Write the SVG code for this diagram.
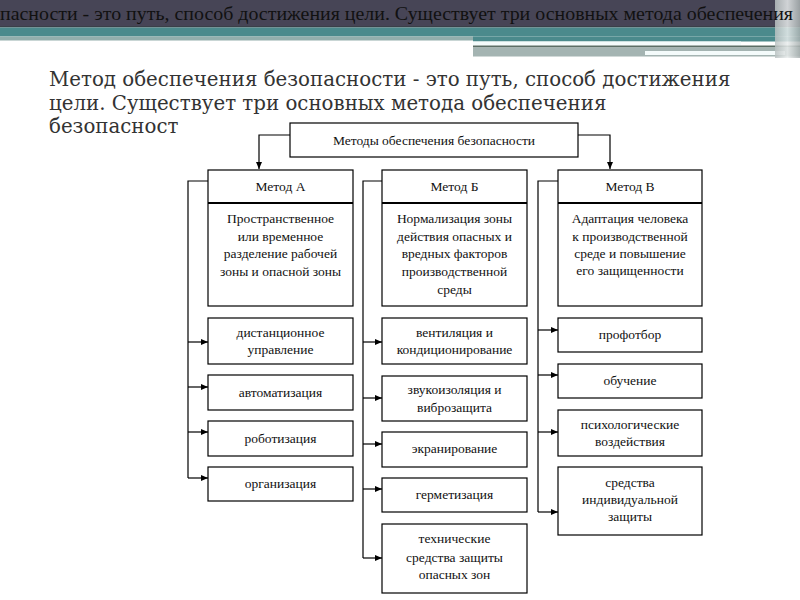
<svg xmlns="http://www.w3.org/2000/svg" width="800" height="600" viewBox="0 0 800 600">
<style>
.bx{fill:#fff;stroke:#000;stroke-width:1.2}
.ln{fill:none;stroke:#000;stroke-width:1.2}
.t{font-family:'Liberation Serif','Times New Roman',serif;font-size:13.5px;fill:#111;text-anchor:middle}
.h{font-family:'DejaVu Serif',serif;font-size:19.8px;fill:#333}
.bt{font-family:'Liberation Serif',serif;font-size:19.5px;fill:#111}
</style>
<defs>
<marker id="ar" markerWidth="8" markerHeight="8" refX="7" refY="4" orient="auto" markerUnits="userSpaceOnUse">
<path d="M0,1 L7,4 L0,7 Z" fill="#000"/>
</marker>
<linearGradient id="rg" x1="0" y1="0" x2="1" y2="0">
<stop offset="0" stop-color="#b8c0c0"/><stop offset="0.5" stop-color="#e8ecec"/><stop offset="1" stop-color="#a8b0b0"/>
</linearGradient>
</defs>
<rect width="800" height="600" fill="#fff"/>
<g id="banner">
<rect x="0" y="0" width="800" height="27" fill="#474556"/>
<rect x="0" y="26" width="800" height="1.5" fill="#3a4048"/>
<rect x="0" y="27.5" width="800" height="9" fill="#4b8a8c"/>
<rect x="0" y="36.5" width="473" height="4" fill="#93aeac"/>
<rect x="473" y="36.5" width="327" height="5" fill="#4b8a8c"/>
<rect x="473" y="41.5" width="268" height="4" fill="#f4fbfb"/>
<rect x="473" y="45.5" width="327" height="2" fill="#5c6e66"/>
<rect x="473" y="47.5" width="327" height="9" fill="#a4b4b2"/>
<rect x="645" y="51" width="140" height="4" fill="#f4fbfb"/>
<rect x="775" y="0" width="25" height="58" fill="url(#rg)" opacity="0.85"/>
<text class="bt" x="0" y="20" textLength="793" lengthAdjust="spacingAndGlyphs">пасности - это путь, способ достижения цели. Существует три основных метода обеспечения</text>
</g>
<g id="heading" class="h">
<text x="49" y="86">Метод обеспечения безопасности - это путь, способ достижения</text>
<text x="49" y="110">цели. Существует три основных метода обеспечения</text>
<text x="49" y="133">безопасност</text>
</g>
<g id="connectors">
<path class="ln" d="M290,135 H259 V169" marker-end="url(#ar)"/>
<path class="ln" d="M578,135 H610 V169" marker-end="url(#ar)"/>
<path class="ln" d="M208,181 H188 V478"/>
<path class="ln" d="M188,342 H208" marker-end="url(#ar)"/>
<path class="ln" d="M188,387 H208" marker-end="url(#ar)"/>
<path class="ln" d="M188,432 H208" marker-end="url(#ar)"/>
<path class="ln" d="M188,478 H208" marker-end="url(#ar)"/>
<path class="ln" d="M382,181 H363 V558"/>
<path class="ln" d="M363,342 H382" marker-end="url(#ar)"/>
<path class="ln" d="M363,398 H382" marker-end="url(#ar)"/>
<path class="ln" d="M363,444 H382" marker-end="url(#ar)"/>
<path class="ln" d="M363,489 H382" marker-end="url(#ar)"/>
<path class="ln" d="M363,558 H382" marker-end="url(#ar)"/>
<path class="ln" d="M558,181 H538 V512"/>
<path class="ln" d="M538,330 H558" marker-end="url(#ar)"/>
<path class="ln" d="M538,375 H558" marker-end="url(#ar)"/>
<path class="ln" d="M538,432 H558" marker-end="url(#ar)"/>
<path class="ln" d="M538,512 H558" marker-end="url(#ar)"/>
</g>
<g id="root"><rect class="bx" x="290" y="123" width="288" height="34"/><text class="t" x="434" y="145">Методы обеспечения безопасности</text></g>
<g id="methodA"><rect class="bx" x="208" y="170" width="145" height="136"/><line x1="208" y1="203" x2="353" y2="203" stroke="#000" stroke-width="2"/>
<text class="t" x="280.5" y="191">Метод А</text>
<text class="t" x="280.5" y="223">Пространственное</text><text class="t" x="280.5" y="241">или временное</text><text class="t" x="280.5" y="258">разделение рабочей</text><text class="t" x="280.5" y="276">зоны и опасной зоны</text></g>
<g id="methodB"><rect class="bx" x="382" y="170" width="145" height="136"/><line x1="382" y1="203" x2="527" y2="203" stroke="#000" stroke-width="2"/>
<text class="t" x="454.5" y="191">Метод Б</text>
<text class="t" x="454.5" y="223">Нормализация зоны</text><text class="t" x="454.5" y="241">действия опасных и</text><text class="t" x="454.5" y="258">вредных факторов</text><text class="t" x="454.5" y="276">производственной</text><text class="t" x="454.5" y="294">среды</text></g>
<g id="methodV"><rect class="bx" x="558" y="170" width="144" height="136"/><line x1="558" y1="203" x2="702" y2="203" stroke="#000" stroke-width="2"/>
<text class="t" x="630" y="191">Метод В</text>
<text class="t" x="630" y="223">Адаптация человека</text><text class="t" x="630" y="241">к производственной</text><text class="t" x="630" y="258">среде и повышение</text><text class="t" x="630" y="275">его защищенности</text></g>
<g id="a1"><rect class="bx" x="208" y="318" width="145" height="46"/><text class="t" x="280.5" y="337">дистанционное</text><text class="t" x="280.5" y="354">управление</text></g>
<g id="a2"><rect class="bx" x="208" y="375" width="145" height="35"/><text class="t" x="280.5" y="397">автоматизация</text></g>
<g id="a3"><rect class="bx" x="208" y="421" width="145" height="35"/><text class="t" x="280.5" y="443">роботизация</text></g>
<g id="a4"><rect class="bx" x="208" y="467" width="145" height="34"/><text class="t" x="280.5" y="488">организация</text></g>
<g id="b1"><rect class="bx" x="382" y="318" width="145" height="46"/><text class="t" x="454.5" y="337">вентиляция и</text><text class="t" x="454.5" y="354">кондиционирование</text></g>
<g id="b2"><rect class="bx" x="382" y="376" width="145" height="45"/><text class="t" x="454.5" y="394">звукоизоляция и</text><text class="t" x="454.5" y="412">виброзащита</text></g>
<g id="b3"><rect class="bx" x="382" y="432" width="145" height="35"/><text class="t" x="454.5" y="453">экранирование</text></g>
<g id="b4"><rect class="bx" x="382" y="478" width="145" height="34"/><text class="t" x="454.5" y="499">герметизация</text></g>
<g id="b5"><rect class="bx" x="382" y="524" width="145" height="69"/><text class="t" x="454.5" y="543">технические</text><text class="t" x="454.5" y="562">средства защиты</text><text class="t" x="454.5" y="579">опасных зон</text></g>
<g id="v1"><rect class="bx" x="558" y="318" width="144" height="34"/><text class="t" x="630" y="339">профотбор</text></g>
<g id="v2"><rect class="bx" x="558" y="364" width="144" height="34"/><text class="t" x="630" y="385">обучение</text></g>
<g id="v3"><rect class="bx" x="558" y="410" width="144" height="46"/><text class="t" x="630" y="429">психологические</text><text class="t" x="630" y="446">воздействия</text></g>
<g id="v4"><rect class="bx" x="558" y="467" width="144" height="68"/><text class="t" x="630" y="487">средства</text><text class="t" x="630" y="504">индивидуальной</text><text class="t" x="630" y="521">защиты</text></g>
</svg>
